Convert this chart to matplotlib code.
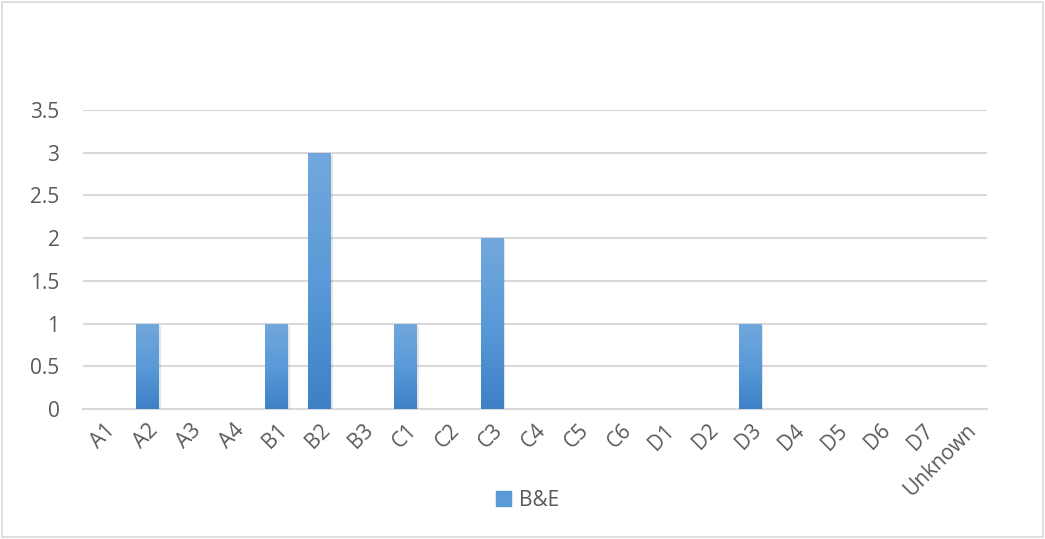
import numpy as np
import matplotlib.pyplot as plt
from matplotlib.patches import Rectangle
from matplotlib.colors import LinearSegmentedColormap

# --------------------------------------------------
# Data
# --------------------------------------------------
categories = ["A1", "A2", "A3", "A4", "B1", "B2", "B3", "C1", "C2", "C3", "C4",
              "C5", "C6", "D1", "D2", "D3", "D4", "D5", "D6", "D7", "Unknown"]
counts = [0, 1, 0, 0, 1, 3, 0, 1, 0, 2, 0, 0, 0, 0, 0, 1, 0, 0, 0, 0, 0]
y_ticks = [0, 0.5, 1, 1.5, 2, 2.5, 3, 3.5]
series_name = "B&E"

plt.rcParams["font.family"] = ["Open Sans", "DejaVu Sans"]
text_col = "#595959"
grid_col = "#d9d9d9"

fig = plt.figure(figsize=(10.45, 5.39), dpi=100)
ax = fig.add_axes([83 / 1045, 1 - 409 / 539, 904 / 1045, 299 / 539])

x = np.arange(len(categories))
bars = ax.bar(x, counts, width=0.53, color="#5b9bd5", label=series_name, zorder=3)

# vertical gradient fill like the Excel style
grad = LinearSegmentedColormap.from_list("g", ["#3d80c6", "#5a9ad8", "#72a8dd"])
g = np.linspace(0, 1, 256).reshape(-1, 1)
for b in bars:
    if b.get_height() <= 0:
        continue
    b.set_facecolor("none")
    x0, w, h = b.get_x(), b.get_width(), b.get_height()
    im = ax.imshow(g, cmap=grad, origin="lower", aspect="auto",
                   extent=(x0, x0 + w, 0, h), zorder=3)
    im.set_clip_path(b)
    # soft shadow
    ax.add_patch(Rectangle((x0 + 0.04, -0.025), w, h, color="#000000",
                           alpha=0.10, zorder=2, linewidth=0))

ax.set_xlim(-0.5, len(categories) - 0.5)
ax.set_ylim(0, 3.5)
ax.set_yticks(y_ticks)
ax.set_yticklabels([f"{v:g}" for v in y_ticks])
ax.set_xticks(x)
ax.set_xticklabels(categories, rotation=45, ha="right", rotation_mode="anchor")
ax.tick_params(axis="both", length=0, labelsize=15, colors=text_col)
ax.tick_params(axis="y", pad=17)
ax.tick_params(axis="x", pad=8)

ax.yaxis.grid(True, color=grid_col, linewidth=1.5, zorder=0)
ax.set_axisbelow(True)
for s in ax.spines.values():
    s.set_visible(False)
ax.axhline(0, color=grid_col, linewidth=1.5, zorder=1, clip_on=False)

leg = fig.legend(handles=[Rectangle((0, 0), 1, 1, color="#5b9bd5")],
                 labels=[series_name], loc="center", bbox_to_anchor=(528 / 1045, 1 - 500 / 539),
                 frameon=False, fontsize=15, handlelength=0.7, handleheight=0.7,
                 handletextpad=0.4)
for t in leg.get_texts():
    t.set_color(text_col)

# chart border
fig.patches.append(Rectangle((0.002, 0.003), 0.996, 0.994, transform=fig.transFigure,
                             fill=False, edgecolor=grid_col, linewidth=1.2))

plt.savefig("out.png", dpi=100)
